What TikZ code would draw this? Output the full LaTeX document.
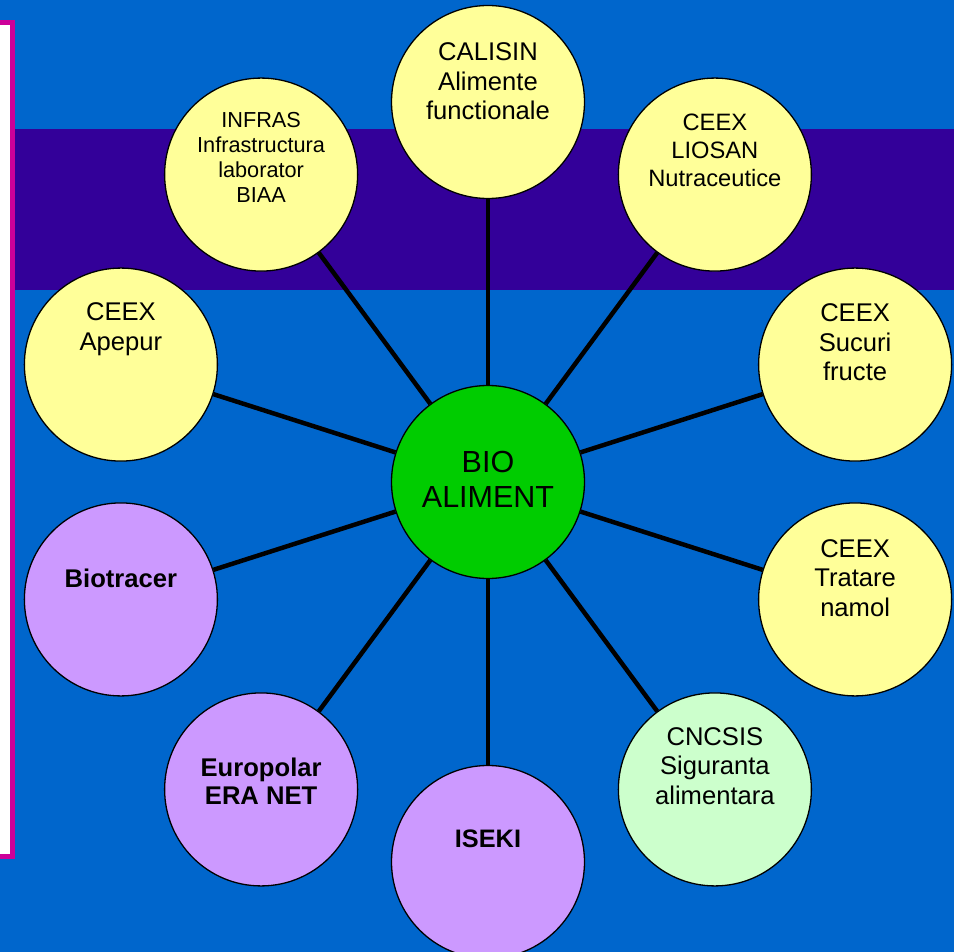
\documentclass[tikz,border=0pt]{standalone}
\usepackage{fontspec}
\setmainfont{Liberation Sans}

\definecolor{sky}{HTML}{0066CC}
\definecolor{band}{HTML}{330099}
\definecolor{frame}{HTML}{CC0099}
\definecolor{pale}{HTML}{FFFF99}
\definecolor{mint}{HTML}{CCFFCC}
\definecolor{lilac}{HTML}{CC99FF}
\definecolor{hub}{HTML}{00CC00}

\tikzset{
  bubble/.style={circle, draw=black, line width=1.3pt, minimum size=193pt, inner sep=0pt},
  txt/.style={align=center, anchor=base, inner sep=0pt, font=\fontsize{25.6}{29.5}\selectfont},
  link/.style={line width=4.5pt},
}

\begin{document}
\begin{tikzpicture}[x=1pt,y=-1pt]
  \useasboundingbox (0,0) rectangle (954,952);
  \fill[sky] (0,0) rectangle (954,952);
  \fill[band] (0,129) rectangle (954,290);
  \draw[frame, fill=white, line width=5.3pt] (-20,22.6) rectangle (12.7,856.4);

  \node[bubble, fill=hub] (bio) at (488,482) {};
  \foreach \n/\a/\c in {calisin/90/pale, liosan/54/pale, sucuri/18/pale, tratare/-18/pale,
      cncsis/-54/mint, iseki/-90/lilac, europolar/-126/lilac, biotracer/-162/lilac,
      apepur/162/pale, infras/126/pale} {
    \node[bubble, fill=\c] (\n) at ([shift={({386*cos(\a)},{-380*sin(\a)})}]bio.center) {};
    \draw[link] (bio) -- (\n);
  }

  % base = last line, so shift by the lines above it
  \node[txt, font=\fontsize{30.5}{35.7}\selectfont] (bio-t) at ([yshift=-25.7pt]bio.center) {BIO\\ALIMENT};
  \node[txt] (calisin-t) at ([yshift=-18pt]calisin.center) {CALISIN\\Alimente\\functionale};
  \node[txt, font=\fontsize{23.7}{28}\selectfont] (liosan-t) at ([yshift=-12pt]liosan.center) {CEEX\\LIOSAN\\Nutraceutice};
  \node[txt] (sucuri-t) at ([yshift=-16pt]sucuri.center) {CEEX\\Sucuri\\fructe};
  \node[txt] (tratare-t) at ([yshift=-17pt]tratare.center) {CEEX\\Tratare\\namol};
  \node[txt] (cncsis-t) at ([yshift=-15pt]cncsis.center) {CNCSIS\\Siguranta\\alimentara};
  \node[txt, font=\fontsize{25.3}{28}\bfseries] (iseki-t) at ([yshift=15pt]iseki.center) {ISEKI};
  \node[txt, font=\fontsize{25.6}{28}\bfseries] (europolar-t) at ([yshift=-15pt]europolar.center) {Europolar\\ERA NET};
  \node[txt, font=\fontsize{25.6}{28}\bfseries] (biotracer-t) at ([yshift=12pt]biotracer.center) {Biotracer};
  \node[txt] (apepur-t) at ([yshift=14.5pt]apepur.center) {CEEX\\Apepur};
  \node[txt, font=\fontsize{21.7}{25}\selectfont] (infras-t) at ([yshift=-28pt]infras.center) {INFRAS\\Infrastructura\\laborator\\BIAA};
\end{tikzpicture}
\end{document}
